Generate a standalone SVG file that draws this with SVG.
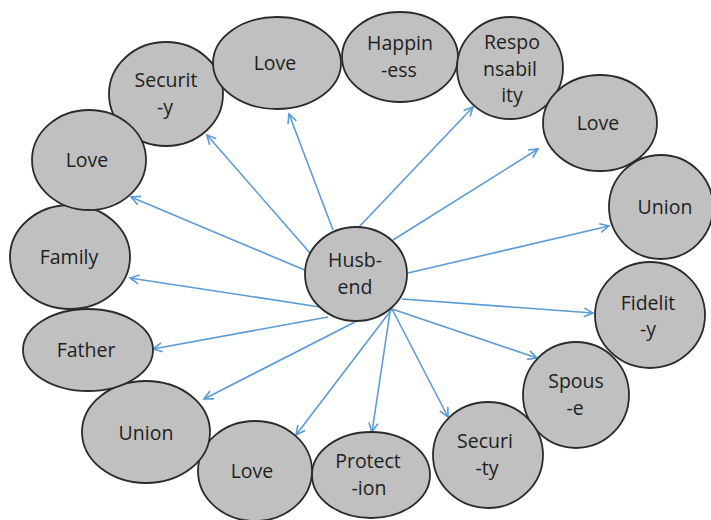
<svg xmlns="http://www.w3.org/2000/svg" width="711" height="520" viewBox="0 0 711 520">
<style>
.n ellipse{fill:#c0c0c0;stroke:#2b2b2b;stroke-width:1.8}
.n text{font-family:"Open Sans","Liberation Sans",sans-serif;font-size:19.5px;fill:#1e1e1e;text-anchor:middle}
.c line{stroke:#5b9bd5;stroke-width:1.6;fill:none;marker-end:url(#ah)}
</style>
<defs>
<marker id="ah" viewBox="-11 -6 13 12" refX="0" refY="0" markerWidth="13" markerHeight="12" markerUnits="userSpaceOnUse" orient="auto">
<path d="M-9,-4.5 L0,0 L-9,4.5" fill="none" stroke="#5b9bd5" stroke-width="1.6"/>
</marker>
</defs>
<rect width="711" height="520" fill="#fff"/>
<g class="c" id="connectors">
<line x1="310" y1="253" x2="207" y2="135"/>
<line x1="333" y1="230" x2="289" y2="114"/>
<line x1="358" y1="228" x2="473" y2="107"/>
<line x1="393" y1="240" x2="538" y2="149"/>
<line x1="408" y1="273" x2="609" y2="226"/>
<line x1="307" y1="271" x2="131" y2="197"/>
<line x1="320" y1="307" x2="130" y2="278"/>
<line x1="328" y1="317" x2="153" y2="349"/>
<line x1="355" y1="322" x2="204" y2="399"/>
<line x1="392" y1="309" x2="296" y2="435"/>
<line x1="390" y1="312" x2="372" y2="432"/>
<line x1="392" y1="309" x2="448" y2="417"/>
<line x1="392" y1="309" x2="537" y2="358"/>
<line x1="402" y1="299" x2="593" y2="313"/>
</g>
<g class="n" id="n-security1"><ellipse cx="166" cy="94" rx="57" ry="52"/><text x="166" y="87">Securit</text><text x="165" y="114">-y</text></g>
<g class="n" id="n-love1"><ellipse cx="277" cy="63" rx="64" ry="46"/><text x="275" y="70">Love</text></g>
<g class="n" id="n-happiness"><ellipse cx="400" cy="57" rx="58" ry="45"/><text x="400" y="50">Happin</text><text x="399" y="77">-ess</text></g>
<g class="n" id="n-responsability"><ellipse cx="510" cy="68" rx="53" ry="51"/><text x="512" y="49">Respo</text><text x="510" y="76">nsabil</text><text x="512" y="102">ity</text></g>
<g class="n" id="n-love2"><ellipse cx="600" cy="123" rx="57" ry="48"/><text x="598" y="130">Love</text></g>
<g class="n" id="n-union1"><ellipse cx="661" cy="207" rx="52" ry="52"/><text x="665" y="214">Union</text></g>
<g class="n" id="n-fidelity"><ellipse cx="650" cy="315" rx="55" ry="53"/><text x="648" y="310">Fidelit</text><text x="648" y="336">-y</text></g>
<g class="n" id="n-spouse"><ellipse cx="576" cy="395" rx="53" ry="53"/><text x="576" y="388">Spous</text><text x="575" y="415">-e</text></g>
<g class="n" id="n-security2"><ellipse cx="488" cy="455" rx="55" ry="53"/><text x="485" y="448">Securi</text><text x="487" y="475">-ty</text></g>
<g class="n" id="n-protection"><ellipse cx="371" cy="475" rx="59" ry="43"/><text x="368" y="468">Protect</text><text x="369" y="495">-ion</text></g>
<g class="n" id="n-love3"><ellipse cx="255" cy="471" rx="57" ry="50"/><text x="252" y="478">Love</text></g>
<g class="n" id="n-union2"><ellipse cx="146" cy="432" rx="64" ry="51"/><text x="146" y="440">Union</text></g>
<g class="n" id="n-father"><ellipse cx="88" cy="350" rx="65" ry="41"/><text x="86" y="357">Father</text></g>
<g class="n" id="n-family"><ellipse cx="70" cy="257" rx="60" ry="52"/><text x="69" y="264">Family</text></g>
<g class="n" id="n-love4"><ellipse cx="89" cy="160" rx="57" ry="50"/><text x="87" y="167">Love</text></g>
<g class="n" id="n-husbend"><ellipse cx="356" cy="274" rx="51" ry="47"/><text x="355" y="267">Husb-</text><text x="355" y="294">end</text></g>
</svg>
